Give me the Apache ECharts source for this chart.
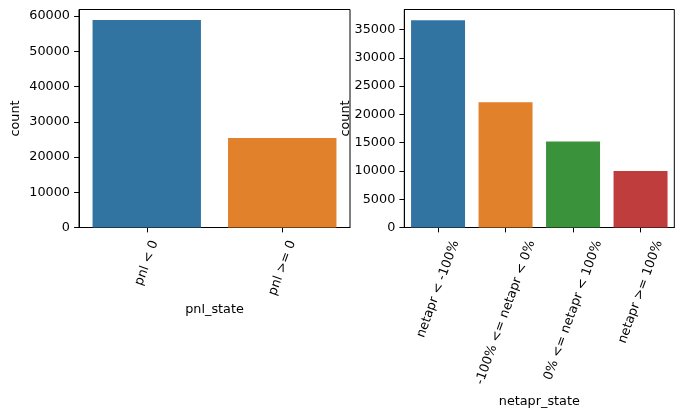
<!DOCTYPE html>
<html><head><meta charset="utf-8">
<script src="https://cdn.jsdelivr.net/npm/echarts@6/dist/echarts.min.js"></script>
<style>html,body{margin:0;padding:0;background:#fff}#c{width:685px;height:418px}</style>
</head><body><div id="c"></div>
<script>
// ---- data ----
const pnlCategories = ['pnl < 0', 'pnl >= 0'];
const pnlCounts = [58890, 25370];
const pnlTicks = [0, 10000, 20000, 30000, 40000, 50000, 60000];

const netaprCategories = ['netapr < -100%', '-100% <= netapr < 0%', '0% <= netapr < 100%', 'netapr >= 100%'];
const netaprCounts = [36640, 22150, 15200, 10000];
const netaprTicks = [0, 5000, 10000, 15000, 20000, 25000, 30000, 35000];

const barColors = ['#3274a1', '#e1812c', '#3a923a', '#c03d3e'];

// ---- style ----
const FONT = '"DejaVu Sans", sans-serif';
const FS = 12.8;
const ROT = 70;
const GAP = 11;
const TICK = 4.9;

const ctx = document.createElement('canvas').getContext('2d');
ctx.font = FS + 'px ' + FONT;
function richFor(cats) {
  const r = ROT * Math.PI / 180;
  const rich = {};
  cats.forEach((c, i) => {
    const L = ctx.measureText(c).width;
    const H = L * Math.sin(r) + FS * 1.17 * Math.cos(r);
    const d = GAP + H / 2;
    rich['t' + i] = {
      fontSize: FS, fontFamily: FONT, color: '#000',
      padding: [2 * d * Math.cos(r), 2 * d * Math.sin(r), 0, 0]
    };
  });
  return rich;
}

function xAxisFor(cats, gridIndex, name, nameGap) {
  return {
    type: 'category', gridIndex, data: cats,
    name, nameLocation: 'middle', nameGap, nameMoveOverlap: false,
    nameTextStyle: { fontSize: FS, fontFamily: FONT, color: '#000' },
    axisLine: { show: true, lineStyle: { color: '#000', width: 1 } },
    axisTick: { show: true, alignWithLabel: true, length: TICK, lineStyle: { color: '#000', width: 1 } },
    axisLabel: {
      interval: 0, rotate: ROT, margin: 0, align: 'center', verticalAlign: 'middle',
      formatter: (v, i) => '{t' + i + '|' + v + '}',
      rich: richFor(cats)
    },
    splitLine: { show: false }
  };
}
function yAxisFor(ticks, max, gridIndex, nameGap) {
  return {
    type: 'value', gridIndex, min: 0, max,
    name: 'count', nameLocation: 'middle', nameGap, nameMoveOverlap: false,
    nameTextStyle: { fontSize: FS, fontFamily: FONT, color: '#000' },
    axisLine: { show: true, lineStyle: { color: '#000', width: 1 } },
    axisTick: { show: true, length: TICK, customValues: ticks, lineStyle: { color: '#000', width: 1 } },
    axisLabel: { customValues: ticks, formatter: v => String(v), fontSize: FS, fontFamily: FONT, color: '#000', margin: 9 },
    splitLine: { show: false }
  };
}

const chart = echarts.init(document.getElementById('c'), null, { renderer: 'canvas' });
chart.setOption({
  animation: false,
  backgroundColor: '#fff',
  grid: [
    { left: 79, top: 9.5, width: 271, height: 218, show: true, borderColor: '#000', borderWidth: 1, backgroundColor: 'transparent', containLabel: false, outerBoundsMode: 'none' },
    { left: 404.3, top: 9.5, width: 270, height: 218, show: true, borderColor: '#000', borderWidth: 1, backgroundColor: 'transparent', containLabel: false, outerBoundsMode: 'none' }
  ],
  xAxis: [
    xAxisFor(pnlCategories, 0, 'pnl_state', 76),
    xAxisFor(netaprCategories, 1, 'netapr_state', 168)
  ],
  yAxis: [
    yAxisFor(pnlTicks, 61850, 0, 57),
    yAxisFor(netaprTicks, 38535, 1, 52)
  ],
  series: [
    {
      type: 'bar', xAxisIndex: 0, yAxisIndex: 0, barCategoryGap: '20%',
      data: pnlCounts.map((v, i) => ({ value: v, itemStyle: { color: barColors[i] } }))
    },
    {
      type: 'bar', xAxisIndex: 1, yAxisIndex: 1, barCategoryGap: '20%',
      data: netaprCounts.map((v, i) => ({ value: v, itemStyle: { color: barColors[i] } }))
    }
  ]
});
</script>
</body></html>
